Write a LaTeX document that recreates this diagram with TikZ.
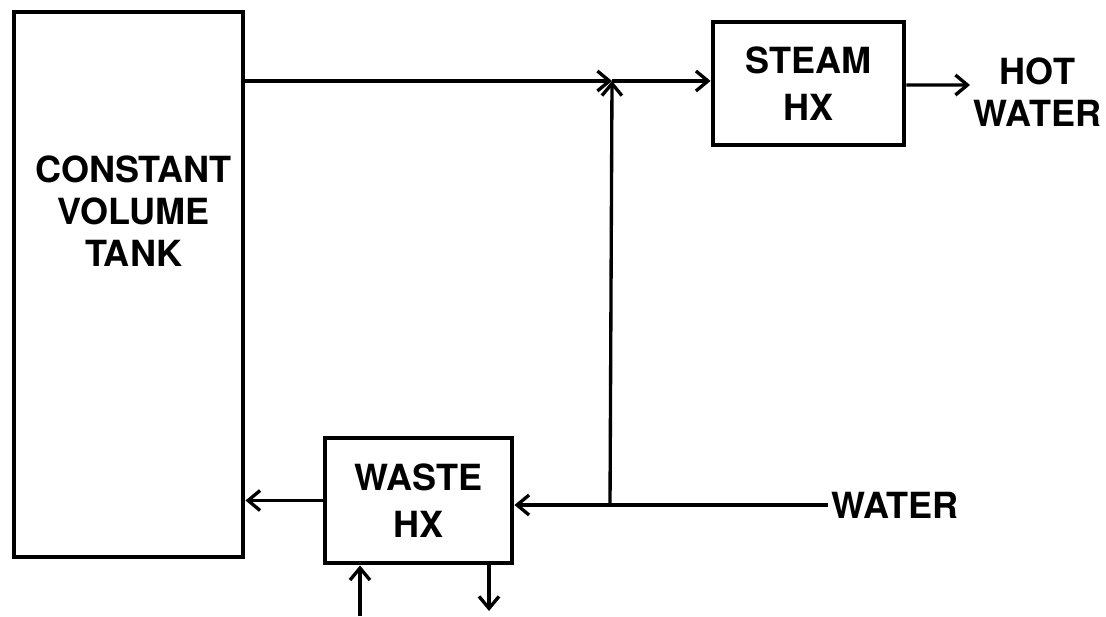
\documentclass[tikz,border=0pt]{standalone}
\usepackage{fontspec}
\setmainfont{TeX Gyre Heros}
\usetikzlibrary{arrows.meta, positioning}

\begin{document}
\begin{tikzpicture}[
    unit/.style={rectangle, draw=black, line width=2.8pt, align=center, inner sep=0pt, font=\fontsize{20.5}{27}\selectfont\bfseries},
    lbl/.style={align=center, inner sep=2pt, font=\fontsize{20.5}{24}\selectfont\bfseries},
    flow/.style={-{Straight Barb[length=2.4mm, width=4mm, line width=1.9pt]}, line width=1.9pt},
    pipe/.style={line width=1.9pt}
]
\useasboundingbox (0,0) rectangle (22.12,12.32);

% Tank
\node[unit, minimum width=4.58cm, minimum height=10.9cm] (tank) at (2.57, 6.63) {};
\node[lbl] (tanktxt) at (2.67, 8.1) {CONSTANT\\VOLUME\\TANK};

% Heat exchangers
\node[unit, minimum width=3.82cm, minimum height=2.46cm] (steam) at (16.17, 10.65) {STEAM\\HX};
\node[unit, minimum width=3.74cm, minimum height=2.5cm] (waste) at (8.37, 2.31) {WASTE\\HX};

% Labels
\node[lbl, anchor=west] (hot) at (19.4, 10.48) {HOT\\WATER};
\node[lbl, anchor=west] (water) at (16.55, 2.22) {WATER};

% Junctions and free ends
\coordinate (top) at (12.24, 10.7);
\coordinate (tee) at (12.2, 2.22);
\coordinate (inlet) at (7.2, 0);
\coordinate (drain) at (9.78, 0.1);

% Flow lines
\draw[flow] (tank.east |- top) -- (top);
\draw[flow] (top) -- (top -| steam.west);
\draw[flow] (tee) -- (top);
\draw[flow] (steam.east |- hot) ++(0,0.14) -- (hot.west |- 0,10.62);
\draw[pipe] (water.west) -- (tee);
\draw[flow] (tee) -- (tee -| waste.east);
\draw[flow] (waste.west) -- (waste.west -| tank.east);
\draw[flow] (inlet) -- (inlet |- waste.south);
\draw[flow] (drain |- waste.south) -- (drain);

\end{tikzpicture}
\end{document}
